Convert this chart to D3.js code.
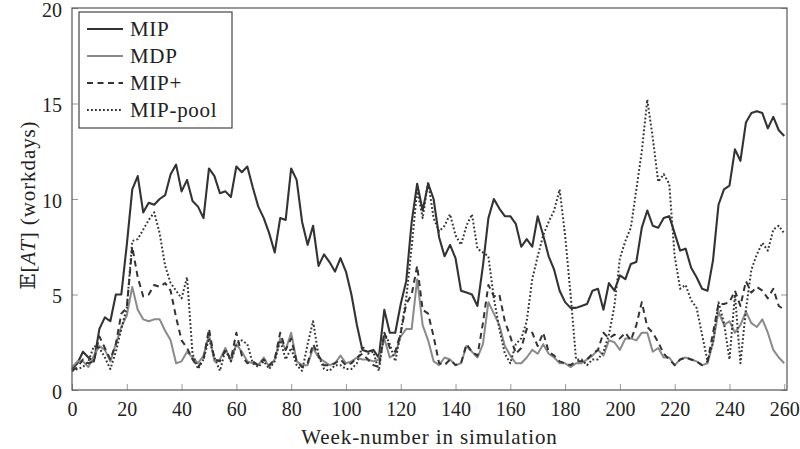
<!DOCTYPE html>
<html>
<head>
<meta charset="UTF-8" />
<title>E[AT] per week</title>
<script src="https://d3js.org/d3.v7.min.js"></script>
<style>
  body { margin: 0; background: #fff; }
  svg { display: block; }
  text { font-family: "Liberation Serif", "DejaVu Serif", serif; fill: #222; }
  .tick text { font-size: 20px; }
  .legend text { font-size: 21px; letter-spacing: 0.7px; }
  .title { font-size: 21px; letter-spacing: 0.9px; }
</style>
</head>
<body>
<div id="chart"></div>
<script>
// weeks are sampled every second week, 0..260
var weeks = d3.range(0, 261, 2);

var mip = [1.1, 1.4, 2.0, 1.7, 1.5, 3.2, 3.8, 3.6, 5.0, 5.0, 7.6, 10.5, 11.2, 9.3, 9.8, 9.7, 10.0, 10.2, 11.3, 11.8,
  10.4, 11.0, 9.9, 9.6, 9.0, 11.6, 11.2, 10.3, 10.4, 10.1, 11.7, 11.4, 11.7, 10.6, 9.6, 9.0, 8.2, 7.2, 9.0, 8.9,
  11.6, 11.0, 8.8, 7.6, 8.6, 6.5, 7.1, 6.7, 6.2, 6.9, 6.2, 5.0, 3.4, 2.1, 2.0, 2.1, 1.7, 4.2, 3.0, 3.0,
  4.5, 5.7, 8.8, 10.8, 9.4, 10.8, 10.0, 8.0, 7.0, 7.6, 6.9, 5.2, 5.1, 5.0, 4.4, 6.5, 9.0, 10.0, 9.5, 9.1,
  9.1, 8.7, 7.5, 7.9, 7.5, 9.1, 8.1, 7.0, 6.3, 5.2, 4.6, 4.3, 4.3, 4.4, 4.5, 5.2, 5.3, 4.2, 5.6, 5.2,
  6.0, 5.8, 6.6, 6.7, 8.5, 9.4, 8.6, 8.5, 9.0, 9.1, 8.2, 7.3, 7.4, 6.4, 5.9, 5.3, 5.2, 6.8, 9.7, 10.5,
  10.7, 12.6, 12.0, 14.0, 14.5, 14.6, 14.5, 13.7, 14.3, 13.6, 13.3];

var mdp = [1.2, 1.5, 1.5, 1.2, 1.8, 2.3, 2.1, 1.5, 2.4, 3.3, 3.9, 5.4, 4.2, 3.7, 3.6, 3.7, 3.7, 3.1, 2.6, 1.4,
  1.5, 2.0, 1.7, 1.4, 1.8, 2.9, 1.5, 1.6, 2.2, 1.5, 2.4, 2.0, 1.5, 1.4, 1.3, 1.7, 1.2, 1.6, 2.7, 2.1,
  3.0, 1.5, 1.3, 1.3, 2.2, 1.7, 1.5, 1.3, 1.4, 1.8, 1.4, 1.5, 1.7, 1.6, 1.6, 1.5, 1.6, 2.7, 1.7, 1.9,
  2.8, 3.2, 3.2, 5.8, 3.4, 2.6, 1.5, 1.3, 1.7, 1.6, 1.3, 1.4, 2.3, 2.0, 1.7, 2.4, 4.6, 4.0, 3.4, 2.3,
  1.8, 1.4, 1.4, 1.7, 2.1, 1.9, 2.4, 1.9, 1.7, 1.4, 1.4, 1.2, 1.4, 1.4, 1.6, 1.8, 2.1, 1.8, 2.6, 2.5,
  2.1, 2.7, 2.7, 2.6, 3.0, 3.0, 2.0, 2.2, 1.7, 1.7, 1.3, 1.6, 1.7, 1.6, 1.5, 1.3, 1.4, 2.5, 4.1, 3.4,
  3.6, 3.0, 3.4, 4.1, 3.5, 3.3, 3.7, 3.0, 2.1, 1.7, 1.4];

var mipPlus = [1.0, 1.2, 1.6, 1.4, 1.5, 2.8, 2.2, 1.6, 2.4, 4.0, 4.3, 7.5, 5.9, 4.9, 5.0, 5.5, 5.4, 5.6, 5.2, 3.8,
  2.6, 2.2, 1.6, 1.2, 1.6, 3.2, 1.6, 1.5, 2.1, 1.6, 3.0, 1.8, 1.4, 1.5, 1.3, 1.6, 1.3, 1.6, 3.0, 2.1,
  2.7, 1.5, 1.2, 1.4, 2.4, 1.8, 1.3, 1.3, 1.4, 1.6, 1.3, 1.4, 1.7, 1.9, 1.6, 1.3, 1.2, 3.0, 2.2, 2.0,
  3.0, 4.5, 5.0, 6.5, 4.2, 4.0, 2.8, 1.4, 1.3, 1.6, 1.3, 1.4, 2.4, 2.0, 1.8, 3.5, 5.5, 4.9, 5.0, 3.6,
  2.8, 1.9, 2.2, 3.2, 3.0, 2.3, 3.0, 2.0, 1.8, 1.5, 1.4, 1.3, 1.5, 1.5, 1.6, 1.9, 2.1, 3.0, 2.7, 2.9,
  2.7, 3.0, 2.6, 3.4, 4.6, 3.3, 3.0, 2.5, 1.9, 1.6, 1.3, 1.6, 1.7, 1.6, 1.5, 1.3, 1.5, 3.0, 4.5, 4.5,
  4.6, 5.2, 4.4, 5.7, 5.1, 5.4, 5.2, 4.8, 5.3, 4.4, 4.2];

var mipPool = [1.0, 1.1, 1.2, 1.5, 2.3, 2.2, 1.7, 1.1, 2.0, 3.2, 4.3, 7.8, 7.9, 8.4, 8.9, 9.3, 8.2, 6.5, 5.6, 5.2,
  4.8, 5.9, 1.9, 1.1, 1.6, 2.7, 1.7, 1.0, 2.1, 1.5, 2.4, 2.6, 2.4, 1.4, 1.2, 1.5, 1.1, 1.5, 2.6, 1.6,
  2.2, 1.3, 1.0, 2.4, 3.6, 1.8, 1.1, 1.0, 1.3, 1.3, 1.1, 1.1, 1.4, 2.3, 1.9, 2.0, 1.0, 3.0, 2.4, 1.5,
  3.0, 4.8, 7.5, 10.5, 9.0, 10.9, 9.0, 8.3, 8.6, 9.2, 8.1, 7.6, 8.6, 9.2, 7.4, 7.2, 7.0, 4.8, 3.2, 1.9,
  1.4, 2.4, 2.7, 3.6, 5.8, 7.0, 8.1, 8.8, 9.4, 10.5, 8.1, 5.0, 1.6, 1.6, 1.3, 1.6, 1.6, 2.0, 2.9, 4.4,
  6.9, 7.8, 8.5, 10.5, 12.5, 15.2, 13.2, 10.9, 11.3, 10.8, 7.0, 5.3, 5.5, 4.7, 4.3, 2.9, 1.5, 2.5, 4.6, 3.5,
  1.6, 5.0, 1.4, 4.2, 6.3, 7.1, 7.7, 7.3, 8.4, 8.6, 8.2];

var seriesNames = ["MIP", "MDP", "MIP+", "MIP-pool"];
var seriesValues = [mip, mdp, mipPlus, mipPool];
var xTicks = d3.range(0, 261, 20);
var yTicks = [0, 5, 10, 15, 20];

// styles per series (pgfplots-like)
var styles = [
  {color: "#333333", width: 2.1, dash: null},
  {color: "#8a8a8a", width: 2.0, dash: null},
  {color: "#333333", width: 2.0, dash: "6,4.5"},
  {color: "#333333", width: 2.0, dash: "1.8,2.2"}
];

var W = 800, H = 449;
var margin = {top: 8, right: 13, bottom: 59, left: 72};
var width = W - margin.left - margin.right,
    height = H - margin.top - margin.bottom;

var x = d3.scaleLinear().domain([0, 261]).range([0, width]);
var y = d3.scaleLinear().domain([0, 20]).range([height, 0]);

var svg = d3.select("#chart").append("svg")
  .attr("width", W)
  .attr("height", H)
  .append("g")
  .attr("transform", "translate(" + margin.left + "," + margin.top + ")");

// inward ticks, bottom and left with labels, right without
svg.append("g")
  .attr("class", "x axis")
  .attr("transform", "translate(0," + height + ")")
  .call(d3.axisBottom(x).tickValues(xTicks).tickSize(-6).tickPadding(12))
  .call(function(g) { g.select(".domain").remove(); });

svg.append("g")
  .attr("class", "y axis")
  .call(d3.axisLeft(y).tickValues(yTicks).tickSize(-6).tickPadding(10))
  .call(function(g) { g.select(".domain").remove(); })
  .call(function(g) { g.selectAll("text").attr("dy", "0.4em"); });

svg.append("g")
  .attr("class", "y2 axis")
  .attr("transform", "translate(" + width + ",0)")
  .call(d3.axisRight(y).tickValues(yTicks).tickSize(-6).tickFormat(""))
  .call(function(g) { g.select(".domain").remove(); });

svg.selectAll(".tick line").attr("stroke", "#999").attr("stroke-width", 1);
svg.selectAll(".tick text").attr("fill", "#222");

// the lines
var line = d3.line()
  .x(function(d) { return x(d[0]); })
  .y(function(d) { return y(d[1]); });

seriesValues.forEach(function(vals, i) {
  var pts = weeks.map(function(w, j) { return [w, vals[j]]; });
  svg.append("path")
    .datum(pts)
    .attr("fill", "none")
    .attr("stroke", styles[i].color)
    .attr("stroke-width", styles[i].width)
    .attr("stroke-linejoin", "round")
    .attr("stroke-dasharray", styles[i].dash)
    .attr("d", line);
});

// frame
svg.append("rect")
  .attr("width", width)
  .attr("height", height)
  .attr("fill", "none")
  .attr("stroke", "#555")
  .attr("stroke-width", 1.2);

// axis titles
svg.append("text")
  .attr("class", "title")
  .attr("x", width / 2)
  .attr("y", height + 54)
  .style("text-anchor", "middle")
  .text("Week-number in simulation");

var yl = svg.append("text")
  .attr("class", "title")
  .attr("transform", "translate(-37," + (height / 2 + 6) + ") rotate(-90)")
  .style("text-anchor", "middle");
yl.append("tspan").text("\uD835\uDD3C[");
yl.append("tspan").style("font-style", "italic").text("AT");
yl.append("tspan").text("] (workdays)");

// legend
var legend = svg.append("g")
  .attr("class", "legend")
  .attr("transform", "translate(7,4)");

legend.append("rect")
  .attr("width", 153)
  .attr("height", 116)
  .attr("fill", "#fff")
  .attr("stroke", "#444")
  .attr("stroke-width", 1.2);

seriesNames.forEach(function(name, i) {
  var gy = 17 + i * 27;
  legend.append("line")
    .attr("x1", 8).attr("x2", 44)
    .attr("y1", gy).attr("y2", gy)
    .attr("stroke", styles[i].color)
    .attr("stroke-width", styles[i].width)
    .attr("stroke-dasharray", styles[i].dash);
  legend.append("text")
    .attr("x", 51)
    .attr("y", gy + 7)
    .text(name);
});
</script>
</body>
</html>
